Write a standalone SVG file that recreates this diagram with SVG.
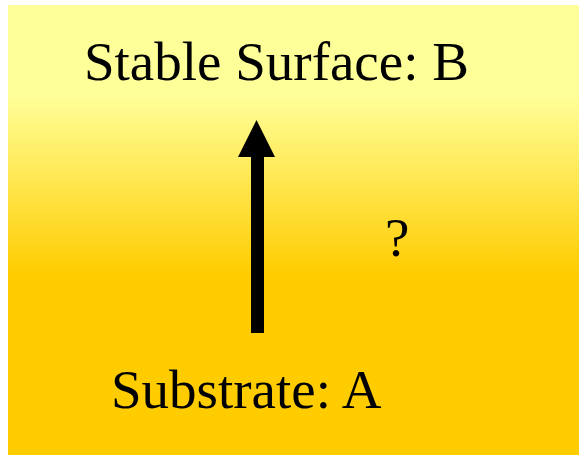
<svg xmlns="http://www.w3.org/2000/svg" width="579" height="456" viewBox="0 0 579 456">
<defs>
<linearGradient id="bg" x1="0" y1="0" x2="0" y2="1">
<stop offset="0" stop-color="#FFFF99"/>
<stop offset="0.2" stop-color="#FFFF99"/>
<stop offset="0.6" stop-color="#FFCC00"/>
<stop offset="1" stop-color="#FFCC00"/>
</linearGradient>
<style>
.t{font-family:"Liberation Serif","Times New Roman",serif;font-size:55px;fill:#000}
</style>
</defs>
<rect x="8" y="5" width="571" height="450" fill="url(#bg)"/>
<g id="nodeB"><text class="t" x="84" y="80">Stable Surface: B</text></g>
<g id="nodeA"><text class="t" x="111" y="408">Substrate: A</text></g>
<g id="question"><text class="t" x="385" y="256">?</text></g>
<g id="connectors">
<rect x="251" y="155" width="13" height="178" fill="#000"/>
<polygon points="256.5,120 275,157 238,157" fill="#000"/>
</g>
</svg>
